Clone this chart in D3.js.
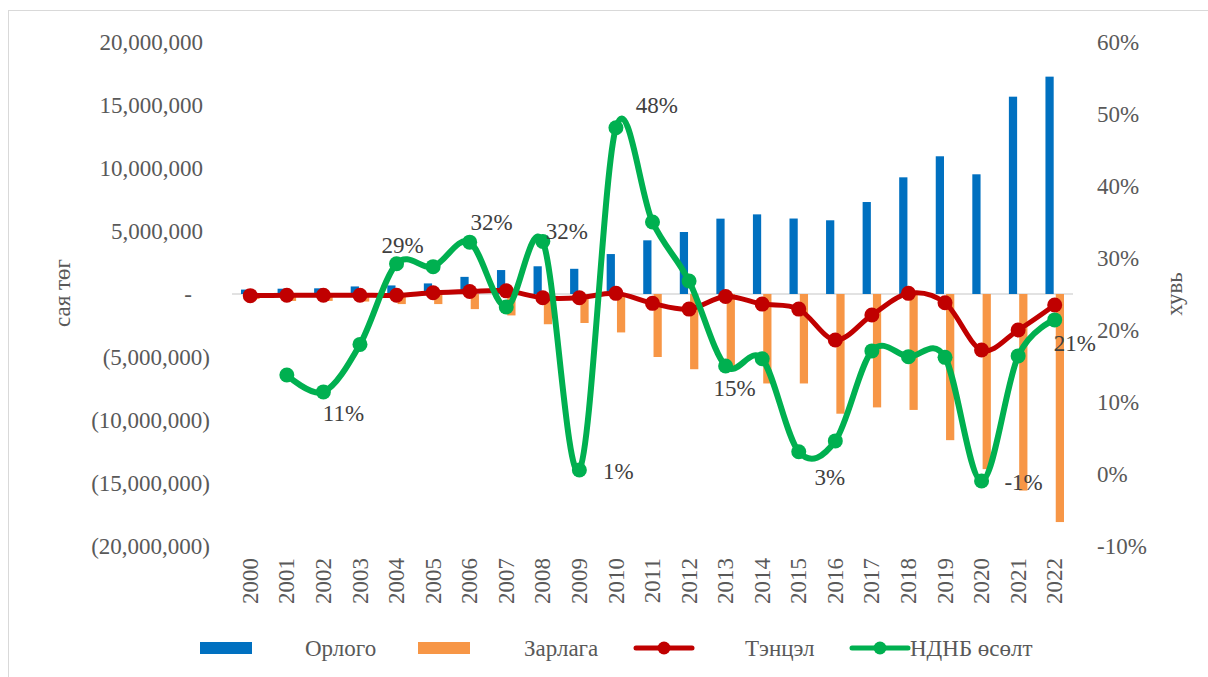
<!DOCTYPE html>
<html>
<head>
<meta charset="utf-8">
<script src="https://cdn.jsdelivr.net/npm/d3@7"></script>
<style>
  body { margin: 0; background: #fff; }
  svg { font-family: "Liberation Serif", "Times New Roman", serif; }
</style>
</head>
<body>
<svg id="chart" width="1208" height="677"></svg>
<script>
'use strict';

// Years on the x axis
const years = d3.range(2000, 2023).map(String);

// Орлого (revenue), сая төг
const revenue = [350000, 420000, 450000, 600000, 680000, 840000, 1360000, 1900000, 2200000, 2000000,
  3170000, 4260000, 4920000, 5980000, 6320000, 5990000, 5850000, 7300000, 9260000, 10930000,
  9500000, 15660000, 17250000];

// Зарлага (expenditure), сая төг
const expense = [-400000, -550000, -550000, -600000, -800000, -800000, -1200000, -1700000, -2400000, -2300000,
  -3050000, -5000000, -5970000, -5900000, -7100000, -7100000, -9500000, -9000000, -9200000, -11600000,
  -13900000, -15600000, -18100000];

// Тэнцэл (balance), сая төг
const balance = [-130000, -100000, -100000, -100000, -100000, 100000, 200000, 250000, -300000, -300000,
  50000, -740000, -1200000, -200000, -800000, -1200000, -3650000, -1670000, 50000, -700000,
  -4440000, -2860000, -870000];

// НДНБ өсөлт (GDP growth), share
const growth = [null, 0.1375, 0.114, 0.180, 0.292, 0.288, 0.322, 0.232, 0.323, 0.0056,
  0.481, 0.350, 0.268, 0.150, 0.160, 0.031, 0.046, 0.171, 0.163, 0.162,
  -0.0097, 0.164, 0.214];

// Years that carry a data label on the growth line
const labelYears = ['2002', '2004', '2006', '2008', '2009', '2010', '2013', '2015', '2020', '2022'];

const leftTicks = [-20000000, -15000000, -10000000, -5000000, 0, 5000000, 10000000, 15000000, 20000000];
const rightTicks = [-0.1, 0, 0.1, 0.2, 0.3, 0.4, 0.5, 0.6];

const colors = { rev: '#0070C0', exp: '#F79646', bal: '#C00000', gdp: '#00B050' };
const tickColor = '#595959';
const labelColor = '#404040';
const fontFamily = 'Liberation Serif';
const fontSize = 23;

const svg = d3.select('#chart');

// outer frame
svg.append('rect')
  .attr('x', 8.5).attr('y', 10.5)
  .attr('width', 1220).attr('height', 700)
  .attr('fill', 'none').attr('stroke', '#d9d9d9');

// scales
const x = d3.scaleBand().domain(years).range([232, 1073]);
const sub = d3.scaleBand().domain(['rev', 'exp'])
  .range([0, x.bandwidth()]).paddingInner(0.2).paddingOuter(0.875);
const yL = d3.scaleLinear().domain([-20000000, 20000000]).range([546, 42]);
const yR = d3.scaleLinear().domain([-0.1, 0.6]).range([546, 42]);
const cx = d => x(d) + x.bandwidth() / 2;

// zero line
svg.append('line')
  .attr('x1', x.range()[0]).attr('x2', x.range()[1])
  .attr('y1', yL(0)).attr('y2', yL(0))
  .attr('stroke', '#d9d9d9').attr('stroke-width', 1.5);

// left axis
const leftFmt = v => v === 0 ? '-' : (v < 0 ? '(' + d3.format(',')(-v) + ')' : d3.format(',')(v));
const leftAxis = svg.append('g')
  .attr('transform', 'translate(210,0)')
  .call(d3.axisLeft(yL).tickValues(leftTicks).tickFormat(leftFmt).tickSize(0).tickPadding(0));
leftAxis.select('.domain').remove();
leftAxis.selectAll('text')
  .attr('font-family', fontFamily).attr('font-size', fontSize).attr('fill', tickColor)
  .attr('dx', d => d > 0 ? -7 : (d === 0 ? -18 : 0));

// right axis
const rightAxis = svg.append('g')
  .attr('transform', 'translate(1097,0)')
  .call(d3.axisRight(yR).tickValues(rightTicks).tickFormat(d => Math.round(d * 100) + '%').tickSize(0).tickPadding(0));
rightAxis.select('.domain').remove();
rightAxis.selectAll('text')
  .attr('font-family', fontFamily).attr('font-size', fontSize).attr('fill', tickColor);

// x axis labels (rotated)
const xAxis = svg.append('g')
  .attr('transform', 'translate(0,558)')
  .call(d3.axisBottom(x).tickSize(0).tickPadding(0));
xAxis.select('.domain').remove();
xAxis.selectAll('text')
  .attr('font-family', fontFamily).attr('font-size', fontSize).attr('fill', tickColor)
  .attr('transform', 'rotate(-90)')
  .attr('text-anchor', 'end')
  .attr('x', 0).attr('y', 0).attr('dy', '0.33em');

// axis titles
svg.append('text')
  .attr('transform', 'translate(62,293) rotate(-90)')
  .attr('text-anchor', 'middle').attr('dy', '0.33em')
  .attr('font-family', fontFamily).attr('font-size', fontSize).attr('fill', tickColor)
  .text('сая төг');
svg.append('text')
  .attr('transform', 'translate(1174,294) rotate(-90)')
  .attr('text-anchor', 'middle').attr('dy', '0.33em')
  .attr('font-family', fontFamily).attr('font-size', fontSize).attr('fill', tickColor)
  .text('хувь');

// bars
svg.append('g').selectAll('rect')
  .data(years.map((y, i) => ({ y, v: revenue[i] })))
  .join('rect')
  .attr('x', d => x(d.y) + sub('rev'))
  .attr('width', sub.bandwidth())
  .attr('y', d => yL(d.v))
  .attr('height', d => yL(0) - yL(d.v))
  .attr('fill', colors.rev);

svg.append('g').selectAll('rect')
  .data(years.map((y, i) => ({ y, v: expense[i] })))
  .join('rect')
  .attr('x', d => x(d.y) + sub('exp'))
  .attr('width', sub.bandwidth())
  .attr('y', yL(0))
  .attr('height', d => yL(d.v) - yL(0))
  .attr('fill', colors.exp);

// balance line
const balData = years.map((y, i) => ({ y, v: balance[i] }));
svg.append('path')
  .datum(balData)
  .attr('fill', 'none').attr('stroke', colors.bal).attr('stroke-width', 5)
  .attr('stroke-linejoin', 'round').attr('stroke-linecap', 'round')
  .attr('d', d3.line().x(d => cx(d.y)).y(d => yL(d.v)).curve(d3.curveCardinal.tension(0)));
svg.append('g').selectAll('circle')
  .data(balData)
  .join('circle')
  .attr('cx', d => cx(d.y)).attr('cy', d => yL(d.v)).attr('r', 7.5)
  .attr('fill', colors.bal);

// growth line
const gdpData = years.map((y, i) => ({ y, v: growth[i] })).filter(d => d.v !== null);
svg.append('path')
  .datum(gdpData)
  .attr('fill', 'none').attr('stroke', colors.gdp).attr('stroke-width', 6)
  .attr('stroke-linejoin', 'round').attr('stroke-linecap', 'round')
  .attr('d', d3.line().x(d => cx(d.y)).y(d => yR(d.v)).curve(d3.curveCardinal.tension(0)));
svg.append('g').selectAll('circle')
  .data(gdpData)
  .join('circle')
  .attr('cx', d => cx(d.y)).attr('cy', d => yR(d.v)).attr('r', 7.5)
  .attr('fill', colors.gdp);

// data labels, offset from their point
const labelOffset = {
  '2002': [20, 21], '2004': [6, -18], '2006': [22, -20], '2008': [24, -10], '2009': [39, 1],
  '2010': [41, -22], '2013': [9, 22], '2015': [31, 26], '2020': [42, 1], '2022': [20, 23]
};
svg.append('g').selectAll('text')
  .data(gdpData.filter(d => labelYears.includes(d.y)))
  .join('text')
  .attr('x', d => cx(d.y) + labelOffset[d.y][0])
  .attr('y', d => yR(d.v) + labelOffset[d.y][1])
  .attr('dy', '0.33em')
  .attr('text-anchor', 'middle')
  .attr('font-family', fontFamily).attr('font-size', fontSize).attr('fill', labelColor)
  .text(d => Math.round(d.v * 100) + '%');

// legend
const legendY = 648;
const legend = svg.append('g')
  .attr('font-family', fontFamily).attr('font-size', fontSize).attr('fill', tickColor);
legend.append('rect').attr('x', 200).attr('y', legendY - 6).attr('width', 52).attr('height', 12).attr('fill', colors.rev);
legend.append('text').attr('x', 305).attr('y', legendY).attr('dy', '0.33em').text('Орлого');
legend.append('rect').attr('x', 418).attr('y', legendY - 6).attr('width', 52).attr('height', 12).attr('fill', colors.exp);
legend.append('text').attr('x', 524).attr('y', legendY).attr('dy', '0.33em').text('Зарлага');
legend.append('line').attr('x1', 636).attr('x2', 692).attr('y1', legendY).attr('y2', legendY)
  .attr('stroke', colors.bal).attr('stroke-width', 5).attr('stroke-linecap', 'round');
legend.append('circle').attr('cx', 664).attr('cy', legendY).attr('r', 6.5).attr('fill', colors.bal);
legend.append('text').attr('x', 745).attr('y', legendY).attr('dy', '0.33em').text('Тэнцэл');
legend.append('line').attr('x1', 852).attr('x2', 908).attr('y1', legendY).attr('y2', legendY)
  .attr('stroke', colors.gdp).attr('stroke-width', 5).attr('stroke-linecap', 'round');
legend.append('circle').attr('cx', 880).attr('cy', legendY).attr('r', 6.5).attr('fill', colors.gdp);
legend.append('text').attr('x', 910).attr('y', legendY).attr('dy', '0.33em').text('НДНБ өсөлт');
</script>
</body>
</html>
